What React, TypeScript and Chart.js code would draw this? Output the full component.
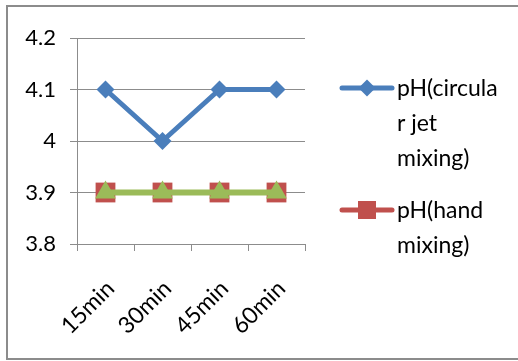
import React, { useEffect, useRef } from 'react';
import { Chart, registerables } from 'chart.js';

Chart.register(...registerables);

// ---- data ----
const categories = ['15min', '30min', '45min', '60min'];
const circularJet = [4.1, 4.0, 4.1, 4.1];
const handMixing = [3.9, 3.9, 3.9, 3.9];
const thirdSeries = [3.9, 3.9, 3.9, 3.9];
const yMin = 3.8;
const yMax = 4.2;
const yStep = 0.1;
const legendCircular = ['pH(circula', 'r jet', 'mixing)'];
const legendHand = ['pH(hand', 'mixing)'];

const BLUE = '#4a7ebb';
const RED = '#c0504d';
const GREEN = '#9bbb59';
const GRID = '#8c8c8c';
const FONT = 'Lato';

const legendPlugin = {
  id: 'excelLegend',
  afterDraw(chart: any) {
    const ctx = chart.ctx as CanvasRenderingContext2D;
    const area = chart.chartArea;
    const x0 = area.right + 37;
    const lineLen = 50;
    const textX = x0 + lineLen + 5;
    const lineH = 35;
    const items = [
      { lines: legendCircular, color: BLUE, marker: 'diamond' },
      { lines: legendHand, color: RED, marker: 'square' },
    ];
    let cy = area.top + 50;
    ctx.save();
    for (const it of items) {
      ctx.strokeStyle = it.color;
      ctx.lineWidth = 5;
      ctx.lineCap = 'round';
      ctx.beginPath();
      ctx.moveTo(x0, cy);
      ctx.lineTo(x0 + lineLen, cy);
      ctx.stroke();
      const mx = x0 + lineLen / 2;
      ctx.fillStyle = it.color;
      ctx.beginPath();
      if (it.marker === 'diamond') {
        const r = 8.5;
        ctx.moveTo(mx, cy - r);
        ctx.lineTo(mx + r, cy);
        ctx.lineTo(mx, cy + r);
        ctx.lineTo(mx - r, cy);
        ctx.closePath();
      } else {
        const h = 9;
        ctx.rect(mx - h, cy - h, 2 * h, 2 * h);
      }
      ctx.fill();
      ctx.fillStyle = '#000';
      ctx.font = `23px ${FONT}`;
      ctx.textAlign = 'left';
      ctx.textBaseline = 'alphabetic';
      it.lines.forEach((t, i) => {
        ctx.fillText(t, textX, cy + 8 + i * lineH);
      });
      cy += it.lines.length * lineH + 17;
    }
    ctx.restore();
  },
};

export default function App() {
  const ref = useRef<HTMLCanvasElement>(null);
  useEffect(() => {
    const chart = new Chart(ref.current!, {
      type: 'line',
      data: {
        labels: categories,
        datasets: [
          {
            label: legendCircular.join(''),
            data: circularJet,
            borderColor: BLUE,
            backgroundColor: BLUE,
            borderWidth: 5,
            pointStyle: 'rectRot',
            pointRadius: 9,
            pointBorderWidth: 0,
            pointBackgroundColor: BLUE,
            borderJoinStyle: 'round',
            borderCapStyle: 'round',
            tension: 0,
            order: 0,
          },
          {
            label: legendHand.join(''),
            data: handMixing,
            borderColor: RED,
            backgroundColor: RED,
            borderWidth: 5,
            pointStyle: 'rect',
            pointRadius: 14,
            pointBorderWidth: 0,
            pointBackgroundColor: RED,
            tension: 0,
            order: 2,
          },
          {
            label: 'series3',
            data: thirdSeries,
            borderColor: GREEN,
            backgroundColor: GREEN,
            borderWidth: 6,
            pointStyle: 'triangle',
            pointRadius: 12,
            pointBorderWidth: 0,
            pointBackgroundColor: GREEN,
            tension: 0,
            order: 1,
          },
        ],
      },
      options: {
        responsive: false,
        animation: false,
        devicePixelRatio: 1,
        layout: { padding: { left: 0, top: 38, right: 213, bottom: 0 } },
        plugins: {
          legend: { display: false },
          tooltip: { enabled: false },
        },
        scales: {
          x: {
            offset: true,
            grid: {
              offset: true,
              drawOnChartArea: false,
              drawTicks: true,
              tickLength: 7,
              color: GRID,
            },
            border: { display: true, color: GRID, width: 1 },
            ticks: {
              font: { family: FONT, size: 23 },
              color: '#000',
              maxRotation: 45,
              minRotation: 45,
              padding: 24,
              labelOffset: 5,
            },
            afterFit: (s: any) => {
              s.height = 117;
            },
          },
          y: {
            min: yMin,
            max: yMax,
            grid: { color: GRID, tickLength: 7, lineWidth: 1 },
            border: { display: true, color: GRID, width: 1 },
            ticks: {
              stepSize: yStep,
              font: { family: FONT, size: 22 },
              color: '#000',
              padding: 14,
              callback: (v: any) => String(Number(Number(v).toFixed(1))),
            },
            afterFit: (s: any) => {
              s.width = 77;
            },
          },
        },
      },
      plugins: [legendPlugin],
    } as any);
    return () => chart.destroy();
  }, []);
  return (
    <div
      style={{
        position: 'absolute',
        left: 0,
        top: 0,
        width: 518,
        height: 361,
        background: '#fff',
        overflow: 'hidden',
      }}
    >
      <div
        style={{
          position: 'absolute',
          left: 6,
          top: 5,
          width: 540,
          height: 351,
          borderLeft: `2px solid ${GRID}`,
          borderTop: `2px solid ${GRID}`,
          borderBottom: `2px solid ${GRID}`,
        }}
      />
      <canvas
        ref={ref}
        width={518}
        height={361}
        style={{ position: 'absolute', left: 0, top: 0 }}
      />
    </div>
  );
}
